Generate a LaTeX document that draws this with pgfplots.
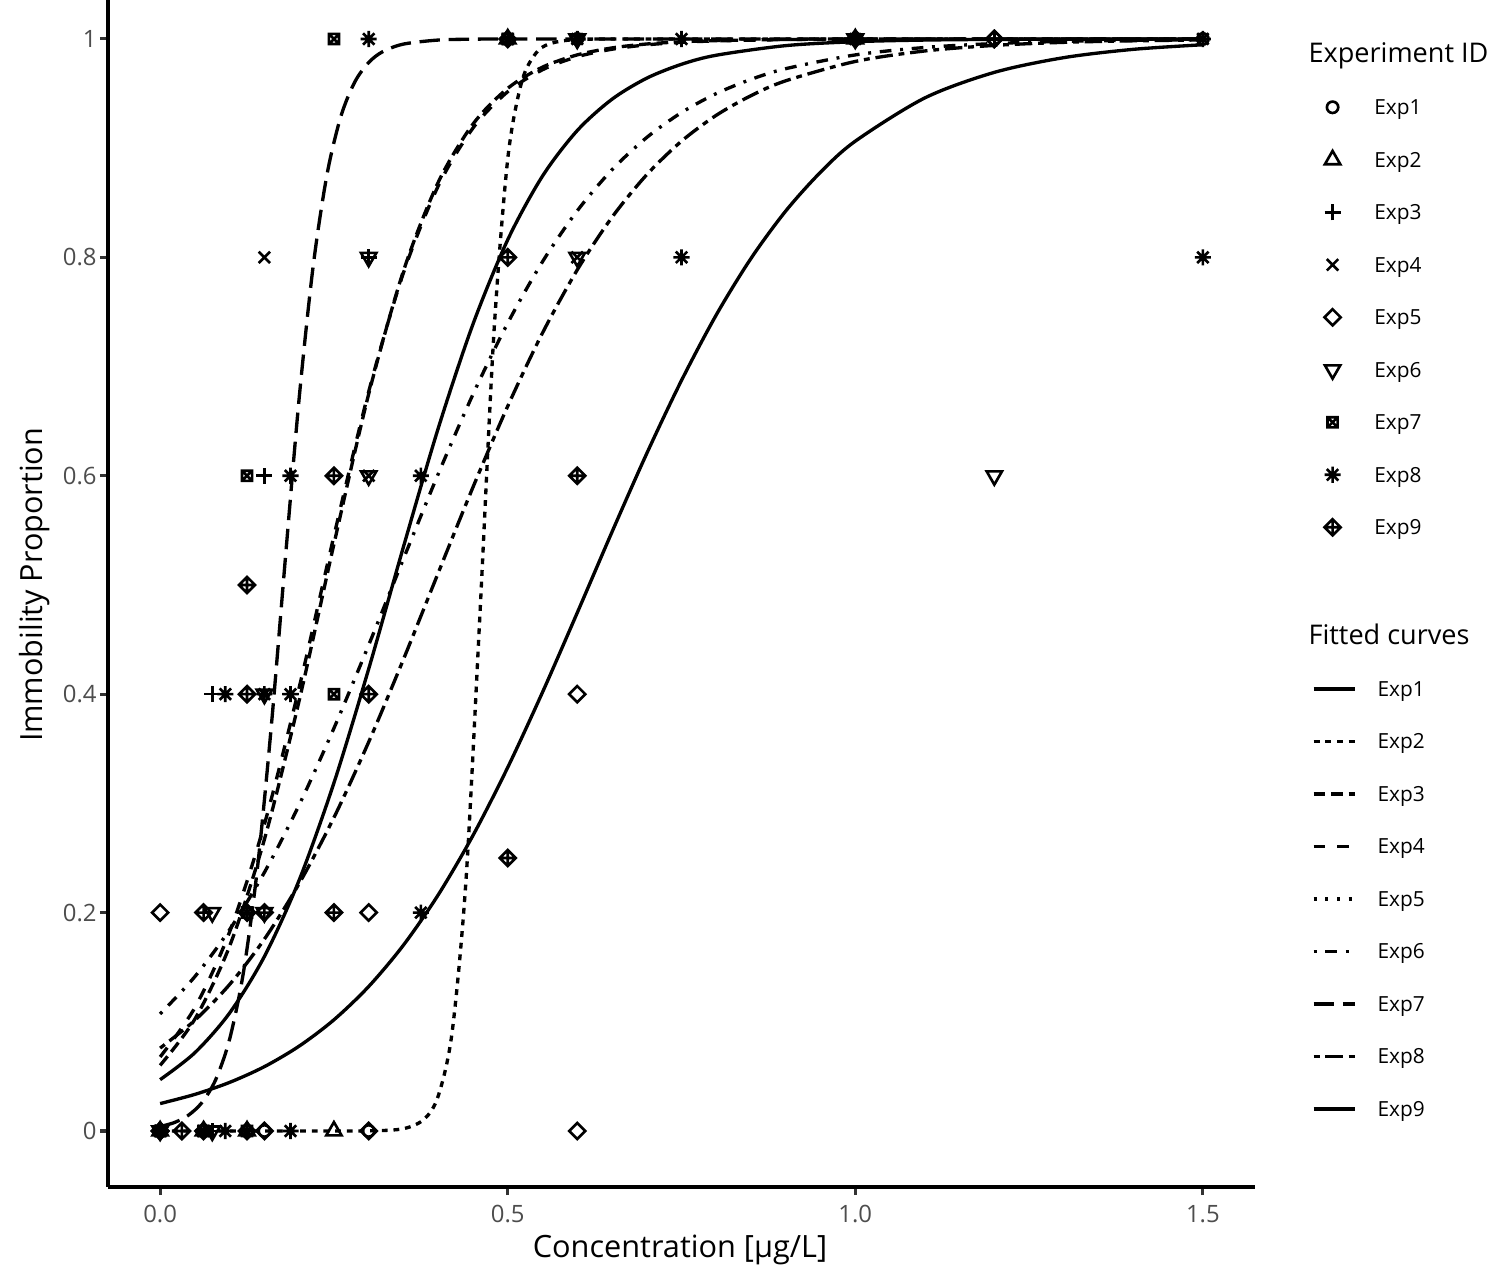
\documentclass[border=0pt]{standalone}
\usepackage{fontspec}
\setmainfont{Open Sans}
\usepackage{pgfplots}
\pgfplotsset{compat=1.18}

% ggplot-like point shapes (pch 1-9)
\pgfdeclareplotmark{gcirc}{\pgfpathcircle{\pgfpointorigin}{2.05pt}\pgfusepathqstroke}
\pgfdeclareplotmark{gtri}{%
 \pgfpathmoveto{\pgfqpoint{0pt}{3.19pt}}\pgfpathlineto{\pgfqpoint{2.76pt}{-1.6pt}}%
 \pgfpathlineto{\pgfqpoint{-2.76pt}{-1.6pt}}\pgfpathclose\pgfusepathqstroke}
\pgfdeclareplotmark{gplus}{%
 \pgfpathmoveto{\pgfqpoint{-2.9pt}{0pt}}\pgfpathlineto{\pgfqpoint{2.9pt}{0pt}}%
 \pgfpathmoveto{\pgfqpoint{0pt}{-2.9pt}}\pgfpathlineto{\pgfqpoint{0pt}{2.9pt}}\pgfusepathqstroke}
\pgfdeclareplotmark{gx}{%
 \pgfpathmoveto{\pgfqpoint{-2.05pt}{-2.05pt}}\pgfpathlineto{\pgfqpoint{2.05pt}{2.05pt}}%
 \pgfpathmoveto{\pgfqpoint{-2.05pt}{2.05pt}}\pgfpathlineto{\pgfqpoint{2.05pt}{-2.05pt}}\pgfusepathqstroke}
\pgfdeclareplotmark{gdiam}{%
 \pgfpathmoveto{\pgfqpoint{0pt}{2.9pt}}\pgfpathlineto{\pgfqpoint{2.9pt}{0pt}}%
 \pgfpathlineto{\pgfqpoint{0pt}{-2.9pt}}\pgfpathlineto{\pgfqpoint{-2.9pt}{0pt}}\pgfpathclose\pgfusepathqstroke}
\pgfdeclareplotmark{gtridown}{%
 \pgfpathmoveto{\pgfqpoint{0pt}{-3.19pt}}\pgfpathlineto{\pgfqpoint{2.76pt}{1.6pt}}%
 \pgfpathlineto{\pgfqpoint{-2.76pt}{1.6pt}}\pgfpathclose\pgfusepathqstroke}
\pgfdeclareplotmark{gsqx}{%
 \pgfpathrectangle{\pgfqpoint{-1.82pt}{-1.82pt}}{\pgfqpoint{3.64pt}{3.64pt}}%
 \pgfpathmoveto{\pgfqpoint{-1.82pt}{-1.82pt}}\pgfpathlineto{\pgfqpoint{1.82pt}{1.82pt}}%
 \pgfpathmoveto{\pgfqpoint{-1.82pt}{1.82pt}}\pgfpathlineto{\pgfqpoint{1.82pt}{-1.82pt}}\pgfusepathqstroke}
\pgfdeclareplotmark{gstar}{%
 \pgfpathmoveto{\pgfqpoint{-2.9pt}{0pt}}\pgfpathlineto{\pgfqpoint{2.9pt}{0pt}}%
 \pgfpathmoveto{\pgfqpoint{0pt}{-2.9pt}}\pgfpathlineto{\pgfqpoint{0pt}{2.9pt}}%
 \pgfpathmoveto{\pgfqpoint{-2.05pt}{-2.05pt}}\pgfpathlineto{\pgfqpoint{2.05pt}{2.05pt}}%
 \pgfpathmoveto{\pgfqpoint{-2.05pt}{2.05pt}}\pgfpathlineto{\pgfqpoint{2.05pt}{-2.05pt}}\pgfusepathqstroke}
\pgfdeclareplotmark{gdplus}{%
 \pgfpathmoveto{\pgfqpoint{0pt}{2.9pt}}\pgfpathlineto{\pgfqpoint{2.9pt}{0pt}}%
 \pgfpathlineto{\pgfqpoint{0pt}{-2.9pt}}\pgfpathlineto{\pgfqpoint{-2.9pt}{0pt}}\pgfpathclose
 \pgfpathmoveto{\pgfqpoint{-2.9pt}{0pt}}\pgfpathlineto{\pgfqpoint{2.9pt}{0pt}}%
 \pgfpathmoveto{\pgfqpoint{0pt}{-2.9pt}}\pgfpathlineto{\pgfqpoint{0pt}{2.9pt}}\pgfusepathqstroke}

\definecolor{tickgray}{HTML}{4D4D4D}
\definecolor{tickline}{HTML}{333333}

\tikzset{
  cv/.style={line width=1.2pt, black, line cap=butt, line join=round},
  d1/.style={solid},
  d2/.style={dash pattern=on 2.1pt off 2.1pt},
  d3/.style={dash pattern=on 4.2pt off 2.1pt},
  d4/.style={dash pattern=on 4.2pt off 4.2pt},
  d5/.style={dash pattern=on 1.05pt off 3.15pt},
  d6/.style={dash pattern=on 1.05pt off 3.15pt on 4.2pt off 3.15pt},
  d7/.style={dash pattern=on 7.35pt off 3.15pt},
  d8/.style={dash pattern=on 2.1pt off 2.1pt on 6.3pt off 2.1pt},
  pts/.style={only marks, black, line width=0.95pt, mark options={solid}},
}

\pgfplotsset{
  markleg/.style={legend image code/.code={%
     \path[draw=none, fill=none] (0pt,0pt) -- (14.8pt,0pt);
     \draw[black, line width=0.95pt, solid] plot[only marks, mark=#1] coordinates {(7.4pt,0pt)};}},
  lineleg/.style={legend image code/.code={%
     \draw[cv, #1] (0pt,0pt) -- (14.8pt,0pt);}},
  legaxis/.style={at={(0pt,0pt)}, anchor=south west, scale only axis,
     width=540pt, height=462.24pt, hide axis, xmin=0, xmax=1, ymin=0, ymax=1,
     legend cell align=left,
     legend style={draw=none, fill=none, inner sep=0pt, outer sep=0pt,
        row sep=0pt, column sep=7.6pt,
        font=\fontsize{7.5}{9}\selectfont,
        nodes={inner sep=0pt, text height=12.13pt, text depth=6.77pt},
        cells={anchor=west}}},
}

\begin{document}
\begin{tikzpicture}
\useasboundingbox (0pt,0pt) rectangle (540pt,462.24pt);

\begin{axis}[
  at={(38.88pt,34.92pt)}, anchor=south west,
  scale only axis, width=412.92pt, height=427.32pt,
  xmin=-0.075, xmax=1.575, ymin=-0.0513, ymax=1.0357,
  axis x line*=bottom, axis y line*=left,
  axis line style={line width=1.1pt, black},
  xtick={0,0.5,1,1.5}, xticklabels={0.0,0.5,1.0,1.5},
  ytick={0,0.2,0.4,0.6,0.8,1}, yticklabels={0,0.2,0.4,0.6,0.8,1},
  tick align=outside, major tick length=2.9pt,
  tick style={line width=1.1pt, color=tickline},
  ticklabel style={font=\fontsize{8.6}{10}\selectfont, text=tickgray, inner sep=0pt},
  xticklabel style={anchor=north, yshift=-3.5pt},
  yticklabel style={anchor=east, xshift=-1.0pt},
]
% ---- fitted curves ----
% Exp1
\addplot[cv, d1, smooth] coordinates {(0,0.0470)(0.05,0.0717)(0.1,0.1081)(0.15,0.1598)(0.2,0.2297)(0.25,0.3187)(0.3,0.4231)(0.35,0.5349)(0.4,0.6434)(0.45,0.7388)(0.5,0.8161)(0.55,0.8744)(0.6,0.9161)(0.65,0.9448)(0.7,0.9641)(0.75,0.9768)(0.8,0.9851)(0.9,0.9939)(1.0,0.9975)(1.1,0.9990)(1.2,0.9996)(1.3,0.9998)(1.4,0.9999)(1.5,1.0000)};
% Exp9
\addplot[cv, d1, smooth] coordinates {(0,0.0251)(0.05,0.0335)(0.1,0.0445)(0.15,0.0589)(0.2,0.0777)(0.25,0.1018)(0.3,0.1323)(0.35,0.1702)(0.4,0.2162)(0.45,0.2706)(0.5,0.3329)(0.55,0.4017)(0.6,0.4745)(0.65,0.5485)(0.7,0.6204)(0.75,0.6873)(0.8,0.7473)(0.85,0.7991)(0.9,0.8425)(0.95,0.8780)(1.0,0.9064)(1.1,0.9460)(1.2,0.9694)(1.3,0.9829)(1.4,0.9905)(1.5,0.9947)};
% Exp3
\addplot[cv, d3, smooth] coordinates {(0,0.0601)(0.05,0.1025)(0.1,0.1694)(0.15,0.2670)(0.2,0.3941)(0.25,0.5374)(0.3,0.6748)(0.35,0.7875)(0.4,0.8687)(0.45,0.9220)(0.5,0.9548)(0.55,0.9742)(0.6,0.9854)(0.65,0.9918)(0.7,0.9954)(0.75,0.9974)(0.8,0.9985)(0.9,0.9995)(1.0,0.9999)(1.1,1)(1.2,1)(1.3,1)(1.4,1)(1.5,1)};
% Exp4
\addplot[cv, d4, smooth] coordinates {(0,0.0678)(0.05,0.1130)(0.1,0.1824)(0.15,0.2809)(0.2,0.4061)(0.25,0.5449)(0.3,0.6770)(0.35,0.7858)(0.4,0.8653)(0.45,0.9184)(0.5,0.9517)(0.55,0.9718)(0.6,0.9837)(0.65,0.9906)(0.7,0.9946)(0.75,0.9969)(0.8,0.9982)(0.9,0.9994)(1.0,0.9998)(1.1,1)(1.2,1)(1.3,1)(1.4,1)(1.5,1)};
% Exp6
\addplot[cv, d6, smooth] coordinates {(0,0.1072)(0.05,0.1414)(0.1,0.1844)(0.15,0.2368)(0.2,0.2986)(0.25,0.3688)(0.3,0.4450)(0.35,0.5239)(0.4,0.6016)(0.45,0.6745)(0.5,0.7398)(0.55,0.7960)(0.6,0.8426)(0.65,0.8802)(0.7,0.9098)(0.75,0.9326)(0.8,0.9500)(0.85,0.9630)(0.9,0.9728)(1.0,0.9854)(1.1,0.9922)(1.2,0.9958)(1.3,0.9978)(1.4,0.9988)(1.5,0.9994)};
% Exp8
\addplot[cv, d8, smooth] coordinates {(0,0.0759)(0.05,0.1014)(0.1,0.1342)(0.15,0.1757)(0.2,0.2266)(0.25,0.2870)(0.3,0.3562)(0.35,0.4319)(0.4,0.5110)(0.45,0.5895)(0.5,0.6637)(0.55,0.7307)(0.6,0.7885)(0.65,0.8367)(0.7,0.8757)(0.75,0.9064)(0.8,0.9301)(0.85,0.9481)(0.9,0.9617)(1.0,0.9794)(1.1,0.9890)(1.2,0.9941)(1.3,0.9969)(1.4,0.9983)(1.5,0.9991)};
% Exp7
\addplot[cv, d7, smooth] coordinates {(0,0.0041)(0.02,0.0076)(0.04,0.0141)(0.06,0.0259)(0.08,0.0471)(0.1,0.0842)(0.12,0.1459)(0.14,0.2410)(0.16,0.3712)(0.18,0.5232)(0.2,0.6711)(0.22,0.7913)(0.24,0.8757)(0.26,0.9291)(0.28,0.9606)(0.3,0.9784)(0.32,0.9883)(0.35,0.9953)(0.4,0.9990)(0.45,0.9998)(0.5,1)(0.6,1)(0.8,1)(1.0,1)(1.2,1)(1.5,1)};
% Exp2
\addplot[cv, d2, smooth] coordinates {(0,0)(0.1,0)(0.2,0)(0.3,0.0001)(0.35,0.0021)(0.38,0.0109)(0.4,0.0320)(0.42,0.0903)(0.44,0.2297)(0.46,0.4725)(0.48,0.7291)(0.5,0.8899)(0.52,0.9604)(0.54,0.9865)(0.56,0.9955)(0.6,0.9995)(0.7,1)(1.0,1)(1.5,1)};

% ---- observations ----
% Exp1
\addplot[pts, mark=gcirc] coordinates {(0,0)(0.15,0)(0.3,0)(0.6,1)(1.0,1)(1.5,1)};
% Exp2
\addplot[pts, mark=gtri] coordinates {(0,0)(0.0625,0)(0.125,0)(0.25,0)(0.5,1)(1.0,1)};
% Exp3
\addplot[pts, mark=gplus] coordinates {(0,0)(0.075,0)(0.075,0.4)(0.15,0.6)(0.1875,0.4)(0.3,0.8)(0.6,1)(1.2,1)};
% Exp4
\addplot[pts, mark=gx] coordinates {(0,0)(0.0625,0)(0.15,0.8)(0.3,0.6)(0.6,0.8)(0.5,1)(1.0,1)};
% Exp5
\addplot[pts, mark=gdiam] coordinates {(0,0.2)(0,0)(0.15,0)(0.3,0)(0.3,0.2)(0.6,0.4)(0.6,0)(1.2,1)};
% Exp6
\addplot[pts, mark=gtridown] coordinates {(0,0)(0.075,0)(0.075,0.2)(0.15,0.4)(0.15,0.2)(0.3,0.8)(0.3,0.6)(0.6,0.8)(0.6,1)(1.0,1)(1.2,0.6)};
% Exp7
\addplot[pts, mark=gsqx] coordinates {(0,0)(0.0625,0)(0.125,0)(0.125,0.2)(0.125,0.6)(0.25,0.4)(0.25,1)(0.5,1)};
% Exp8
\addplot[pts, mark=gstar] coordinates {(0,0)(0.09375,0)(0.1875,0)(0.09375,0.4)(0.15,0.4)(0.1875,0.4)(0.1875,0.6)(0.375,0.2)(0.375,0.6)(0.3,1)(0.6,1)(0.75,0.8)(0.75,1)(1.5,0.8)(1.5,1)};
% Exp9
\addplot[pts, mark=gdplus] coordinates {(0,0)(0.03125,0)(0.0625,0)(0.0625,0.2)(0.125,0)(0.125,0.2)(0.125,0.4)(0.125,0.5)(0.15,0.2)(0.25,0.2)(0.25,0.6)(0.3,0.4)(0.5,0.25)(0.5,0.8)(0.5,1)(0.6,0.6)(1.0,1)(1.2,1)};
\end{axis}

% ---- axis titles ----
\node[anchor=base, inner sep=0pt, font=\fontsize{11.05}{13}\selectfont] at (244.8pt,9.36pt) {Concentration [µg/L]};
\node[anchor=base, rotate=90, inner sep=0pt, font=\fontsize{11.0}{13}\selectfont] at (15.48pt,251.64pt) {Immobility Proportion};

% ---- legend titles ----
\node[anchor=base west, inner sep=0pt, font=\fontsize{9.75}{11}\selectfont] at (470.88pt,439.56pt) {Experiment ID};
\node[anchor=base west, inner sep=0pt, font=\fontsize{9.75}{11}\selectfont] at (470.88pt,230.04pt) {Fitted curves};

% ---- legend: points ----
\begin{axis}[legaxis, legend style={at={(0.87467,0.93687)}, anchor=north west}]
\addlegendimage{markleg=gcirc}\addlegendentry{Exp1}
\addlegendimage{markleg=gtri}\addlegendentry{Exp2}
\addlegendimage{markleg=gplus}\addlegendentry{Exp3}
\addlegendimage{markleg=gx}\addlegendentry{Exp4}
\addlegendimage{markleg=gdiam}\addlegendentry{Exp5}
\addlegendimage{markleg=gtridown}\addlegendentry{Exp6}
\addlegendimage{markleg=gsqx}\addlegendentry{Exp7}
\addlegendimage{markleg=gstar}\addlegendentry{Exp8}
\addlegendimage{markleg=gdplus}\addlegendentry{Exp9}
\end{axis}

% ---- legend: curves ----
\begin{axis}[legaxis, legend style={at={(0.87467,0.48384)}, anchor=north west}]
\addlegendimage{lineleg=d1}\addlegendentry{Exp1}
\addlegendimage{lineleg=d2}\addlegendentry{Exp2}
\addlegendimage{lineleg=d3}\addlegendentry{Exp3}
\addlegendimage{lineleg=d4}\addlegendentry{Exp4}
\addlegendimage{lineleg=d5}\addlegendentry{Exp5}
\addlegendimage{lineleg=d6}\addlegendentry{Exp6}
\addlegendimage{lineleg=d7}\addlegendentry{Exp7}
\addlegendimage{lineleg=d8}\addlegendentry{Exp8}
\addlegendimage{lineleg=d1}\addlegendentry{Exp9}
\end{axis}
\end{tikzpicture}
\end{document}
